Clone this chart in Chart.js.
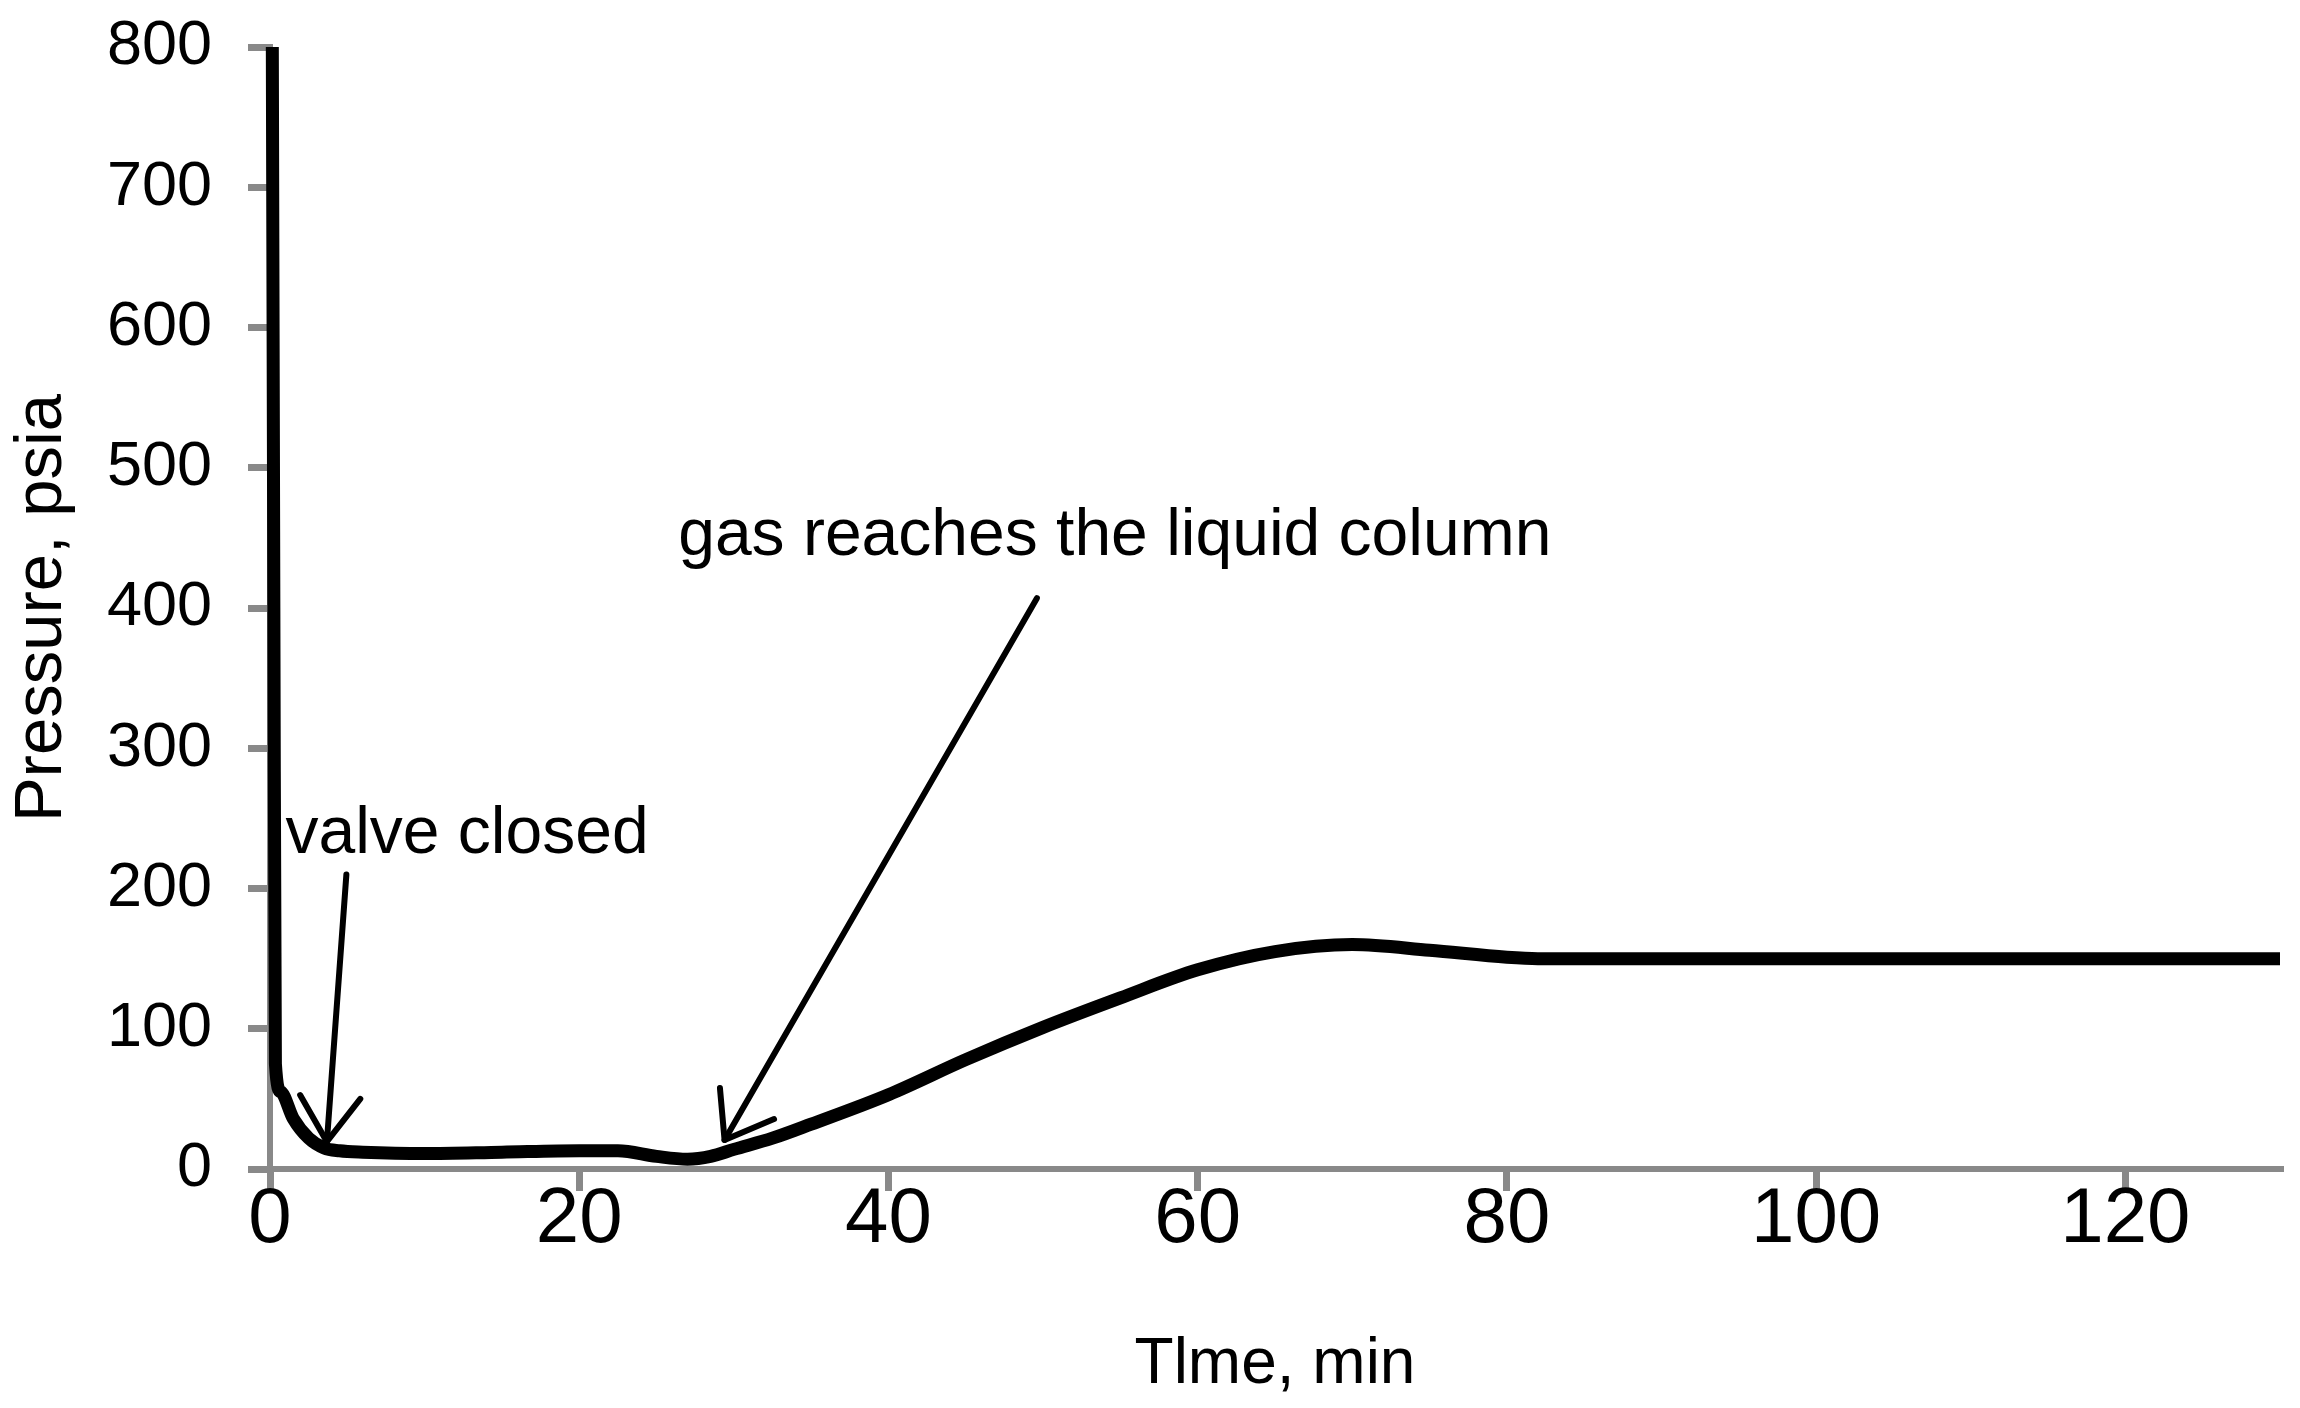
<!DOCTYPE html>
<html>
<head>
<meta charset="utf-8">
<script src="https://cdn.jsdelivr.net/npm/chart.js@4/dist/chart.umd.min.js"></script>
<style>
  html, body { margin: 0; padding: 0; background: #fff; }
</style>
</head>
<body>
<canvas id="chart" width="2300" height="1408"></canvas>
<script>
// pressure vs time
const timeMin = [0.15, 0.25, 0.35, 0.7, 1.5, 2.5, 3.5, 4.5, 6, 10, 15, 20, 22.5, 25, 27, 28.5, 30, 32.5, 35, 40, 45, 50, 55, 60, 65, 70, 75, 80, 82, 90, 100, 110, 120, 130];
const pressurePsia = [800, 400, 75, 55, 36, 22, 15, 13, 12, 11, 12, 13, 13, 9, 7, 9, 14, 22, 32, 53, 78, 101, 122, 142, 155, 160, 156, 151, 150, 150, 150, 150, 150, 150];

// annotation arrows (shaft + head), in data units
const valveShaftX = [4.94, 3.68];
const valveShaftY = [210, 19.5];
const valveHeadX = [1.95, 3.68, 5.84];
const valveHeadY = [52.7, 19.5, 50];
const gasShaftX = [49.6, 29.4];
const gasShaftY = [407, 20.7];
const gasHeadX = [29.1, 29.4, 32.6];
const gasHeadY = [57.7, 20.7, 35.6];

// annotation texts, left/baseline anchor in data units
const noteTexts = ['valve closed', 'gas reaches the liquid column'];
const noteX = [1.0, 26.4];
const noteY = [225, 438];

const xTickStep = 20;
const yTickStep = 100;

const axisGray = '#898989';
const fontFamily = '"Liberation Sans", Arial, sans-serif';

function pts(xs, ys) {
    return xs.map((x, i) => ({ x: x, y: ys[i] }));
}

function arrowSet(xs, ys) {
    return {
        data: pts(xs, ys),
        borderColor: '#000',
        borderWidth: 6,
        borderCapStyle: 'round',
        borderJoinStyle: 'round',
        pointRadius: 0,
        showLine: true,
        fill: false,
        tension: 0,
        clip: false
    };
}

const notesPlugin = {
    id: 'notes',
    afterDatasetsDraw(chart) {
        const ctx = chart.ctx;
        const xs = chart.scales.x, ys = chart.scales.y;
        ctx.save();
        ctx.fillStyle = '#000';
        ctx.font = '66px ' + fontFamily;
        ctx.textAlign = 'left';
        ctx.textBaseline = 'alphabetic';
        noteTexts.forEach((t, i) => {
            ctx.fillText(t, xs.getPixelForValue(noteX[i]), ys.getPixelForValue(noteY[i]));
        });
        ctx.restore();
    }
};

new Chart(document.getElementById('chart'), {
    type: 'scatter',
    data: {
        datasets: [
            {
                data: pts(timeMin, pressurePsia),
                borderColor: '#000',
                borderWidth: 13,
                borderJoinStyle: 'round',
                pointRadius: 0,
                showLine: true,
                fill: false,
                cubicInterpolationMode: 'monotone',
                clip: false
            },
            arrowSet(valveShaftX, valveShaftY),
            arrowSet(valveHeadX, valveHeadY),
            arrowSet(gasShaftX, gasShaftY),
            arrowSet(gasHeadX, gasHeadY)
        ]
    },
    options: {
        responsive: false,
        animation: false,
        devicePixelRatio: 1,
        layout: { padding: { top: 47, right: 20, left: 0, bottom: 0 } },
        plugins: {
            legend: { display: false },
            tooltip: { enabled: false }
        },
        scales: {
            x: {
                type: 'linear',
                min: 0,
                max: 130,
                afterFit(scale) {
                    scale.height = 239;
                    scale.paddingLeft = 0;
                    scale.paddingRight = 0;
                },
                border: { display: true, color: axisGray, width: 6 },
                grid: { display: true, drawOnChartArea: false, drawTicks: true, tickLength: 22, color: axisGray, lineWidth: 7 },
                ticks: {
                    stepSize: xTickStep,
                    includeBounds: false,
                    color: '#000',
                    padding: -17,
                    maxRotation: 0,
                    font: { family: fontFamily, size: 78 }
                },
                title: {
                    display: true,
                    text: 'Tlme, min',
                    color: '#000',
                    font: { family: fontFamily, size: 64 },
                    padding: { top: 0, bottom: 4 }
                }
            },
            y: {
                type: 'linear',
                min: 0,
                max: 800,
                afterFit(scale) {
                    scale.width = 270;
                    scale.paddingTop = 0;
                    scale.paddingBottom = 0;
                },
                border: { display: true, color: axisGray, width: 6 },
                grid: { display: true, drawOnChartArea: false, drawTicks: true, tickLength: 22, color: axisGray, lineWidth: 7 },
                ticks: {
                    stepSize: yTickStep,
                    color: '#000',
                    padding: 36,
                    font: { family: fontFamily, size: 63 }
                },
                title: {
                    display: true,
                    text: 'Pressure, psia',
                    color: '#000',
                    font: { family: fontFamily, size: 67 },
                    padding: { top: 2, bottom: 0 }
                }
            }
        }
    },
    plugins: [notesPlugin]
});
</script>
</body>
</html>
